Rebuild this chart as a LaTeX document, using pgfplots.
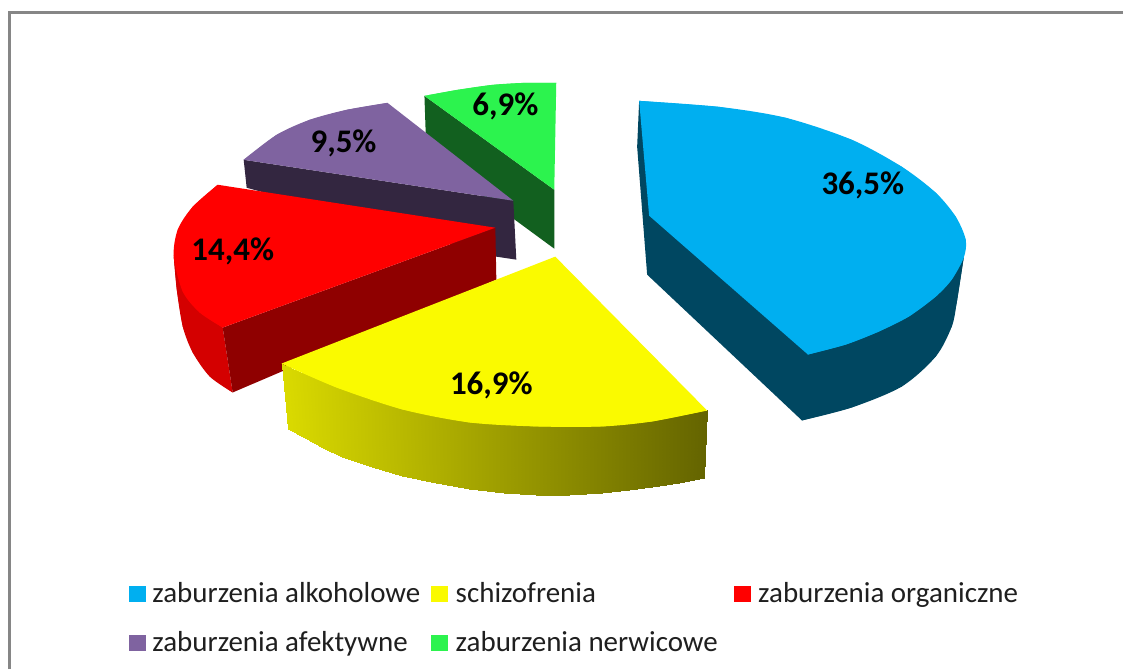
\documentclass[border=0pt]{standalone}
\usepackage{pgfplots}
\pgfplotsset{compat=1.18}
\usepackage{fontspec}
\setmainfont{Carlito}
\definecolor{cblue}{RGB}{0,175,240}
\definecolor{cbluedark}{RGB}{0,71,97}
\definecolor{cyellow}{RGB}{250,250,0}
\definecolor{cred}{RGB}{255,0,0}
\definecolor{credside}{RGB}{212,0,0}
\definecolor{creddark}{RGB}{143,0,0}
\definecolor{cpurple}{RGB}{127,99,160}
\definecolor{cpurpledark}{RGB}{51,38,64}
\definecolor{cgreen}{RGB}{44,243,78}
\definecolor{cgreendark}{RGB}{18,96,31}
\definecolor{cborder}{RGB}{134,134,134}
\pgfplotsset{
  swatch/.style={legend image code/.code={\fill[##1] (0pt,-7.5pt) rectangle (16pt,7.5pt);}},
  face/.style={fill=#1, draw=none, forget plot},
  arc/.style={fill=#1, draw=none, forget plot, smooth, tension=0.5},
}
\tikzset{pct/.style={font=\fontsize{33}{33}\selectfont\bfseries, text=black, inner sep=0pt}}
\begin{document}
\begin{tikzpicture}
\begin{axis}[
    scale only axis, width=1124pt, height=670pt,
    xmin=0, xmax=1124, ymin=0, ymax=670, y dir=reverse,
    hide axis, clip=false,
    colormap={yel}{rgb255=(218,218,0) rgb255=(100,100,0)},
    point meta min=282, point meta max=708,
    legend columns=3, legend cell align=left,
    legend style={draw=none, fill=none, at={(axis cs:129,581)}, anchor=north west,
      font=\fontsize{29}{29}\selectfont, text=black!88, inner sep=0pt, row sep=23.5pt,
      /tikz/column 1/.style={column sep=5pt},
      /tikz/column 2/.style={column sep=9pt},
      /tikz/column 3/.style={column sep=6pt},
      /tikz/column 4/.style={column sep=14pt},
      /tikz/column 5/.style={column sep=6pt}},
]
% page and frame
\addplot[face=white] coordinates {(0,0) (1124,0) (1124,670) (0,670)} -- cycle;
\addplot[cborder, line width=3pt, forget plot] coordinates {(9.5,670) (9.5,12.5) (1124,12.5)};

% green slice
\addplot[face=cgreendark] coordinates {(425,96) (555,190) (555,249) (427,155)} -- cycle;
\addplot[face=cgreen] coordinates {(425,96) (458,90) (493,85) (525,83) (557,83) (555,190)} -- cycle;
\addplot[arc=cgreen] coordinates {(425,96) (458,90) (493,85) (525,83) (557,83)};

% purple slice
\addplot[face=cpurpledark] coordinates {(244,160) (514,201) (517,260) (497,257) (247,188)} -- cycle;
\addplot[face=cpurple] coordinates {(244,160) (277,135) (310,120) (347,110) (388,103) (514,201)} -- cycle;
\addplot[arc=cpurple] coordinates {(244,160) (277,135) (310,120) (347,110) (388,103)};

% red slice
\addplot[face=credside] coordinates {(174,257) (177,290) (183,327) (193,353) (210,377) (233,393) (223,328) (183,292)} -- cycle;
\addplot[arc=credside] coordinates {(174,257) (177,290) (183,327) (193,353) (210,377) (233,393)};
\addplot[face=creddark] coordinates {(223,328) (496,228) (497,280) (233,393)} -- cycle;
\addplot[face=cred] coordinates {(218,185) (496,228) (223,328) (200,313) (183,292) (174,257) (178,230) (193,207)} -- cycle;
\addplot[arc=cred] coordinates {(223,328) (200,313) (183,292) (174,257) (178,230) (193,207) (218,185)};

% yellow slice, side shaded left to right
\addplot[patch, patch type=rectangle, shader=interp, point meta=\thisrow{m}, forget plot] table[row sep=crcr] {
x y m\\
282 364 282\\ 288 430 282\\ 305 439 300\\ 300 372 300\\
300 372 300\\ 305 439 300\\ 323 449 320\\ 320 378 320\\
320 378 320\\ 323 449 320\\ 342 458 340\\ 340 386 340\\
340 386 340\\ 342 458 340\\ 372 468 370\\ 370 395 370\\
370 395 370\\ 372 468 370\\ 403 477 400\\ 400 405 400\\
400 405 400\\ 403 477 400\\ 437 484 435\\ 435 412 435\\
435 412 435\\ 437 484 435\\ 470 490 470\\ 470 418 470\\
470 418 470\\ 470 490 470\\ 505 494 505\\ 505 421 505\\
505 421 505\\ 505 494 505\\ 537 496 537\\ 537 422 537\\
537 422 537\\ 537 496 537\\ 570 496 570\\ 570 423 570\\
570 423 570\\ 570 496 570\\ 603 494 603\\ 603 422 603\\
603 422 603\\ 603 494 603\\ 630 491 630\\ 630 420 630\\
630 420 630\\ 630 491 630\\ 653 488 653\\ 653 418 653\\
653 418 653\\ 653 488 653\\ 680 484 680\\ 680 416 680\\
680 416 680\\ 680 484 680\\ 705 479 708\\ 708 411 708\\
};
\addplot[face=cyellow] coordinates {(556,257) (708,411) (653,422) (603,427) (537,427) (470,423) (403,410) (337,388) (282,364)} -- cycle;
\addplot[arc=cyellow] coordinates {(708,411) (653,422) (603,427) (537,427) (470,423) (403,410) (337,388) (282,364)};

% blue slice
\addplot[face=cbluedark] coordinates {(640,101) (638,147) (648,275) (803,421) (853,408) (903,387) (937,357) (953,327) (958,303) (965,258)} -- cycle;
\addplot[arc=cbluedark] coordinates {(803,421) (853,408) (903,387) (937,357) (953,327) (958,303) (965,258)};
\addplot[face=cblue] coordinates {(640,101) (720,107) (787,118) (853,140) (903,167) (937,193) (957,217) (967,240) (965,258) (953,280) (937,297) (910,317) (880,332) (847,345) (809,355) (650,216)} -- cycle;
\addplot[arc=cblue] coordinates {(640,101) (720,107) (787,118) (853,140) (903,167) (937,193) (957,217) (967,240) (965,258) (953,280) (937,297) (910,317) (880,332) (847,345) (809,355)};

% labels
\node[pct] at (axis cs:864,186) {36,5\%};
\node[pct] at (axis cs:492,386) {16,9\%};
\node[pct] at (axis cs:233,252) {14,4\%};
\node[pct] at (axis cs:344,144) {9,5\%};
\node[pct] at (axis cs:506,107) {6,9\%};

% legend
\addlegendimage{swatch, cblue}
\addlegendentry{zaburzenia alkoholowe}
\addlegendimage{swatch, cyellow}
\addlegendentry{schizofrenia}
\addlegendimage{swatch, cred}
\addlegendentry{zaburzenia organiczne}
\addlegendimage{swatch, cpurple}
\addlegendentry{zaburzenia afektywne}
\addlegendimage{swatch, cgreen}
\addlegendentry{zaburzenia nerwicowe}
\end{axis}
\end{tikzpicture}
\end{document}
